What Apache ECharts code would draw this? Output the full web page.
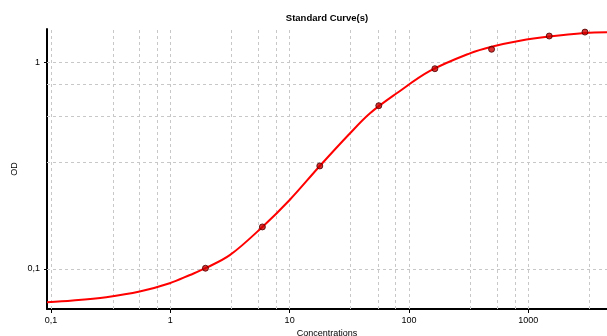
<!DOCTYPE html>
<html>
<head>
<meta charset="utf-8">
<title>Standard Curve(s)</title>
<script src="https://cdn.jsdelivr.net/npm/echarts@6/dist/echarts.min.js"></script>
<style>
  html, body { margin: 0; padding: 0; background: #ffffff; }
  #chart { width: 607px; height: 336px; }
</style>
</head>
<body>
<div id="chart"></div>
<script>
// Standards: concentration and measured OD
const stdConc = [1.97, 5.91, 17.9, 55.9, 165, 493, 1500, 2990];
const stdOD   = [0.1008, 0.1597, 0.315, 0.6166, 0.931, 1.156, 1.34, 1.40];

// Fitted curve, sampled along the concentration range
const curveConc = [0.0925, 0.152, 0.29, 0.553, 0.987, 1.46, 1.97, 3.17, 5.91, 10.0, 17.9, 32.1, 47.2, 79.0, 150, 324, 493, 852, 1500, 2990, 4575];
const curveOD   = [0.0690, 0.0703, 0.0730, 0.0777, 0.0853, 0.0935, 0.1008, 0.1169, 0.1597, 0.2157, 0.315, 0.4535, 0.5667, 0.7079, 0.908, 1.105, 1.19, 1.272, 1.333, 1.386, 1.397];

// Labelled ticks
const xTicks = [0.1, 1, 10, 100, 1000];
const yTicks = [0.1, 1];

// Grid lines (each decade split in four equal linear steps)
const xGrid = [0.1, 0.325, 0.55, 0.775, 1, 3.25, 5.5, 7.75, 10, 32.5, 55, 77.5, 100, 325, 550, 775, 1000, 3250];
const yGrid = [0.1, 0.325, 0.55, 0.775, 1];

const fmt = v => String(v).replace('.', ',');
const font = 'Liberation Sans, Arial, sans-serif';

const chart = echarts.init(document.getElementById('chart'), null, { renderer: 'canvas' });

const gridLines = xGrid.map(v => ({ xAxis: v })).concat(yGrid.map(v => ({ yAxis: v })));

chart.setOption({
  animation: false,
  backgroundColor: '#ffffff',
  title: {
    text: 'Standard Curve(s)',
    left: 327,
    top: 13,
    padding: 0,
    textAlign: 'center',
    textStyle: { fontFamily: font, fontSize: 9.5, fontWeight: 'bold', color: '#000000' }
  },
  grid: { left: 47, right: 0, top: 29, bottom: 27, containLabel: false, outerBoundsMode: 'none' },
  xAxis: {
    type: 'log',
    logBase: 10,
    min: 0.0925,
    max: 4575,
    name: 'Concentrations',
    nameLocation: 'middle',
    nameGap: 20,
    nameMoveOverlap: false,
    nameTextStyle: { fontFamily: font, fontSize: 9, color: '#000000' },
    axisLine: { show: true, lineStyle: { color: '#000000', width: 2 } },
    axisTick: { show: true, length: 4, customValues: xTicks, lineStyle: { color: '#000000' } },
    axisLabel: {
      customValues: xTicks,
      formatter: fmt,
      margin: 7,
      fontFamily: font, fontSize: 9, color: '#000000'
    },
    splitLine: { show: false },
    minorTick: { show: false }
  },
  yAxis: {
    type: 'log',
    logBase: 10,
    min: 0.064,
    max: 1.449,
    name: 'OD',
    nameLocation: 'middle',
    nameGap: 28,
    nameMoveOverlap: false,
    nameTextStyle: { fontFamily: font, fontSize: 9, color: '#000000' },
    axisLine: { show: true, lineStyle: { color: '#000000', width: 2 } },
    axisTick: { show: true, length: 3, customValues: yTicks, lineStyle: { color: '#000000' } },
    axisLabel: {
      customValues: yTicks,
      formatter: fmt,
      margin: 7,
      fontFamily: font, fontSize: 9, color: '#000000'
    },
    splitLine: { show: false }
  },
  series: [
    {
      name: 'Fit',
      type: 'line',
      z: 2,
      smooth: 0.35,
      showSymbol: false,
      data: curveConc.map((c, i) => [c, curveOD[i]]),
      lineStyle: { color: '#ff0000', width: 2 },
      markLine: {
        silent: true,
        z: 1,
        symbol: ['none', 'none'],
        label: { show: false },
        lineStyle: { color: '#c8c8c8', width: 1, type: [3, 3] },
        emphasis: { disabled: true },
        data: gridLines
      }
    },
    {
      name: 'Standards',
      type: 'scatter',
      z: 3,
      symbol: 'circle',
      symbolSize: 6,
      data: stdConc.map((c, i) => [c, stdOD[i]]),
      itemStyle: { color: '#cc0000', borderColor: '#4a0000', borderWidth: 1 }
    }
  ]
});
</script>
</body>
</html>
